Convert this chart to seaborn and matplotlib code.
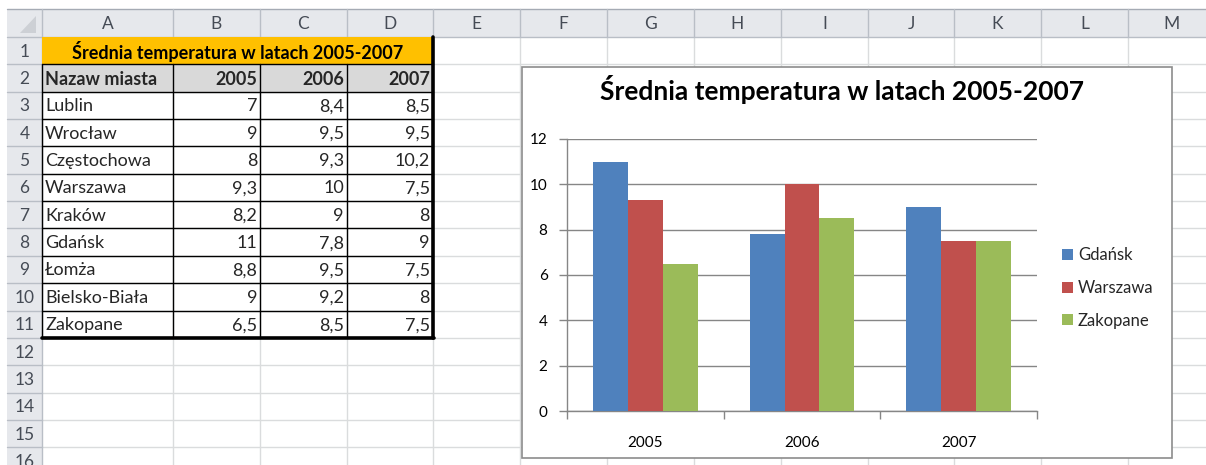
import numpy as np
import pandas as pd
import matplotlib
matplotlib.use("Agg")
import matplotlib.pyplot as plt
from matplotlib.patches import Rectangle, Polygon
import seaborn as sns

# ---------------- data ----------------
title = "Średnia temperatura w latach 2005-2007"
header_city = "Nazaw miasta"
years = ["2005", "2006", "2007"]
cities = ["Lublin", "Wrocław", "Częstochowa", "Warszawa", "Kraków",
          "Gdańsk", "Łomża", "Bielsko-Biała", "Zakopane"]
t2005 = [7, 9, 8, 9.3, 8.2, 11, 8.8, 9, 6.5]
t2006 = [8.4, 9.5, 9.3, 10, 9, 7.8, 9.5, 9.2, 8.5]
t2007 = [8.5, 9.5, 10.2, 7.5, 8, 9, 7.5, 8, 7.5]
chart_cities = ["Gdańsk", "Warszawa", "Zakopane"]
col_letters = ["A", "B", "C", "D", "E", "F", "G", "H", "I", "J", "K", "L", "M"]
y_ticks = [0, 2, 4, 6, 8, 10, 12]

sns.set_theme(style="white")
FONT = ["Lato", "DejaVu Sans"]
plt.rcParams["font.family"] = FONT

W, H = 1206, 465
fig = plt.figure(figsize=(W / 100, H / 100), dpi=100)
fig.patch.set_facecolor("white")

bg = fig.add_axes([0, 0, 1, 1])
bg.set_xlim(0, W)
bg.set_ylim(H, 0)
bg.axis("off")

# sheet geometry (pixels)
col_edges = [42, 173, 260, 347, 433, 520, 607, 694, 781, 868, 954, 1041, 1128, 1215]
row_edges = [37 + 27.35 * i for i in range(17)]
hdr_top, hdr_bot = 9, 37
rn_left = 7
grid_c = "#DADCDD"
hdr_bg = "#E6E8EC"
hdr_line = "#B9BEC6"
hdr_txt = "#454B55"
TS = 13  # table font size

# header backgrounds
bg.add_patch(Rectangle((rn_left, hdr_top), W - rn_left, hdr_bot - hdr_top, fc=hdr_bg, ec="none", zorder=1))
bg.add_patch(Rectangle((rn_left, hdr_bot), col_edges[0] - rn_left, H - hdr_bot, fc=hdr_bg, ec="none", zorder=1))
bg.plot([rn_left, W], [hdr_top, hdr_top], color="#A5ABB4", lw=1, zorder=2)
bg.plot([rn_left, W], [hdr_bot, hdr_bot], color=hdr_line, lw=1, zorder=2)
bg.plot([col_edges[0], col_edges[0]], [hdr_top, H], color=hdr_line, lw=1, zorder=2)
# corner triangle
bg.add_patch(Polygon([[36, 16], [36, 33], [20, 33]], closed=True, fc="#CDD0D5", ec="none", zorder=2))

# grid lines
for x in col_edges[1:]:
    bg.plot([x, x], [hdr_top, hdr_bot], color=hdr_line, lw=1, zorder=2)
    bg.plot([x, x], [hdr_bot, H], color=grid_c, lw=1, zorder=1.5)
for y in row_edges[1:]:
    bg.plot([rn_left, col_edges[0]], [y, y], color=hdr_line, lw=1, zorder=2)
    bg.plot([col_edges[0], W], [y, y], color=grid_c, lw=1, zorder=1.5)

# header labels
for i, letter in enumerate(col_letters):
    cx = (col_edges[i] + col_edges[i + 1]) / 2
    bg.text(cx, (hdr_top + hdr_bot) / 2 + 1, letter, ha="center", va="center",
            fontsize=12.5, color=hdr_txt, zorder=3)
for r in range(16):
    cy = (row_edges[r] + row_edges[r + 1]) / 2
    bg.text((rn_left + col_edges[0]) / 2, cy + 1, str(r + 1), ha="center", va="center",
            fontsize=12.5, color=hdr_txt, zorder=3)

# table cells
def fmt(v):
    s = ("%g" % v)
    return s.replace(".", ",")

xa, xd = col_edges[0], col_edges[4]
# row 1 merged title
bg.add_patch(Rectangle((xa, row_edges[0]), xd - xa, row_edges[1] - row_edges[0],
                       fc="#FFC000", ec="none", zorder=2))
bg.text((xa + xd) / 2, (row_edges[0] + row_edges[1]) / 2 + 1, title, ha="center", va="center",
        fontsize=TS, fontweight="bold", color="black", zorder=3)
# row 2 header
bg.add_patch(Rectangle((xa, row_edges[1]), xd - xa, row_edges[2] - row_edges[1],
                       fc="#D9D9D9", ec="none", zorder=2))
cy = (row_edges[1] + row_edges[2]) / 2 + 1
bg.text(xa + 3, cy, header_city, ha="left", va="center", fontsize=TS, fontweight="bold", zorder=3)
for j, yr in enumerate(years):
    bg.text(col_edges[j + 2] - 3, cy, yr, ha="right", va="center", fontsize=TS,
            fontweight="bold", zorder=3)
# data rows
cols = [t2005, t2006, t2007]
for i, city in enumerate(cities):
    cy = (row_edges[i + 2] + row_edges[i + 3]) / 2 + 1
    bg.text(xa + 3, cy, city, ha="left", va="center", fontsize=TS, zorder=3)
    for j in range(3):
        bg.text(col_edges[j + 2] - 3, cy, fmt(cols[j][i]), ha="right", va="center",
                fontsize=TS, zorder=3)
# borders
ybot = row_edges[11]
for r in range(1, 11):
    bg.plot([xa, xd], [row_edges[r], row_edges[r]], color="black", lw=1, zorder=4)
for x in col_edges[0:4]:
    bg.plot([x, x], [row_edges[1], ybot], color="black", lw=1, zorder=4)
bg.plot([xd, xd], [row_edges[0], ybot], color="black", lw=2.6, zorder=5)
bg.plot([xa, xd + 1], [ybot, ybot], color="black", lw=2.6, zorder=5)

# ---------------- chart ----------------
cx0, cy0, cx1, cy1 = 522, 67, 1172, 458
bg.add_patch(Rectangle((cx0, cy0), cx1 - cx0, cy1 - cy0, fc="white", ec="#8C8C8C", lw=1.2, zorder=6))
bg.text(842, 89, title, ha="center", va="center", fontsize=19,
        fontweight="bold", color="black", zorder=7)

px0, py0, px1, py1 = 567, 139, 1037, 411
ax = fig.add_axes([px0 / W, 1 - py1 / H, (px1 - px0) / W, (py1 - py0) / H])
ax.set_zorder(8)
ax.patch.set_alpha(0)

idx = [cities.index(c) for c in chart_cities]
rows = []
for c, k in zip(chart_cities, idx):
    for j, yr in enumerate(years):
        rows.append({"Rok": yr, "Miasto": c, "Temp": cols[j][k]})
df = pd.DataFrame(rows)
palette = ["#4F81BD", "#C0504D", "#9BBB59"]
sns.barplot(data=df, x="Rok", y="Temp", hue="Miasto", hue_order=chart_cities, order=years,
            palette=palette, width=0.667, gap=0, saturation=1, linewidth=0, ax=ax, zorder=3)

ax.set_xlim(-0.5, 2.5)
ax.set_ylim(0, 12)
ax.set_yticks(y_ticks)
ax.set_yticklabels([str(v) for v in y_ticks], fontsize=11)
ax.yaxis.grid(True, color="#868686", lw=1)
ax.set_axisbelow(True)
ax.set_xlabel("")
ax.set_ylabel("")
for s in ["top", "right"]:
    ax.spines[s].set_visible(False)
for s in ["left", "bottom"]:
    ax.spines[s].set_color("#868686")
    ax.spines[s].set_linewidth(1)
ax.tick_params(axis="y", length=6, color="#868686", width=1, pad=8, left=True, labelcolor="black")
ax.set_xticks([-0.5, 0.5, 1.5, 2.5])
ax.set_xticklabels([])
ax.set_xticks([0, 1, 2], minor=True)
ax.set_xticklabels(years, minor=True, fontsize=11)
ax.tick_params(axis="x", which="major", length=6, color="#868686", width=1, bottom=True)
ax.tick_params(axis="x", which="minor", length=0, pad=18, labelcolor="black")

handles, labels = ax.get_legend_handles_labels()
if ax.legend_:
    ax.legend_.remove()
fig.legend(handles, labels, loc="center left", bbox_to_anchor=(1062 / W, 1 - 288 / H),
           frameon=False, fontsize=12, handlelength=0.65, handleheight=0.65,
           handletextpad=0.3, labelspacing=1.0, borderpad=0, borderaxespad=0).set_zorder(9)

fig.savefig("out.png", dpi=100, facecolor="white")
